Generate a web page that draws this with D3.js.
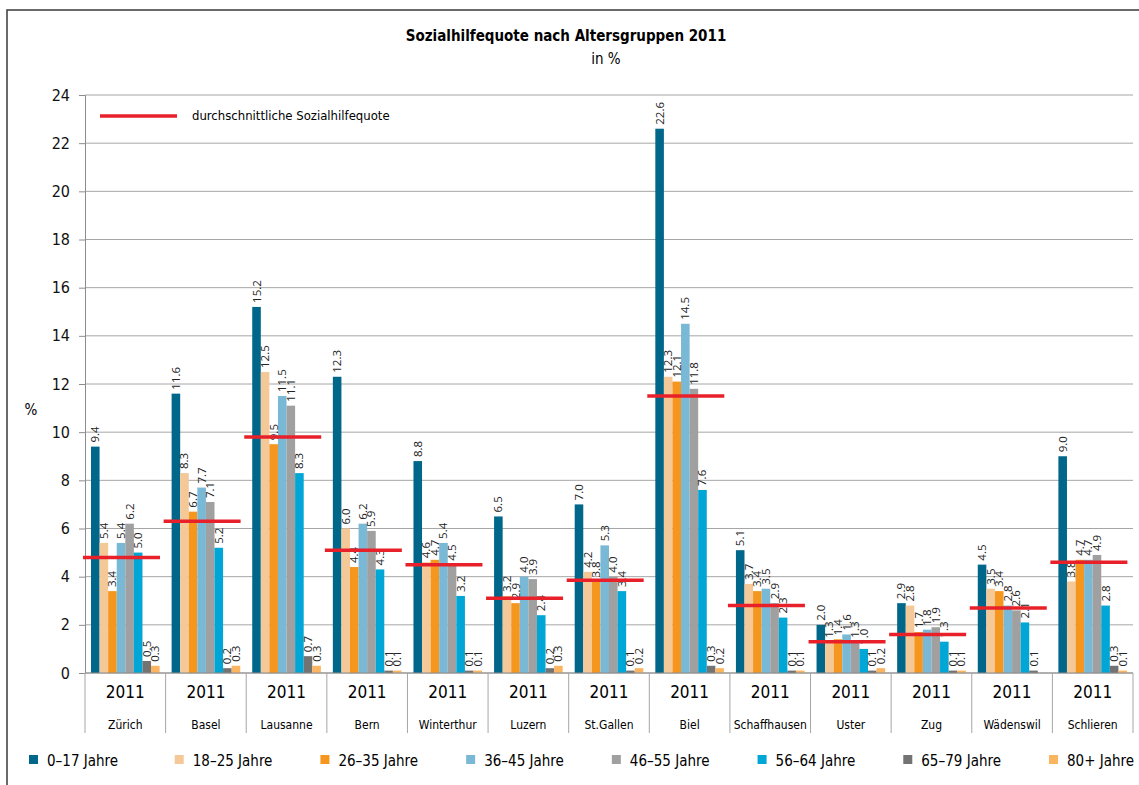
<!DOCTYPE html>
<html>
<head>
<meta charset="utf-8">
<script src="https://cdn.jsdelivr.net/npm/d3@7"></script>
<style>
  body { margin: 0; background: #fff; }
  svg { display: block; }
</style>
</head>
<body>
<script>
const cities = ["Zürich", "Basel", "Lausanne", "Bern", "Winterthur", "Luzern", "St.Gallen",
  "Biel", "Schaffhausen", "Uster", "Zug", "Wädenswil", "Schlieren"];
const year = "2011";
const groups = ["0–17 Jahre", "18–25 Jahre", "26–35 Jahre", "36–45 Jahre",
  "46–55 Jahre", "56–64 Jahre", "65–79 Jahre", "80+ Jahre"];

// one row per city, in the order of groups
const values = [
  [9.4, 5.4, 3.4, 5.4, 6.2, 5.0, 0.5, 0.3],
  [11.6, 8.3, 6.7, 7.7, 7.1, 5.2, 0.2, 0.3],
  [15.2, 12.5, 9.5, 11.5, 11.1, 8.3, 0.7, 0.3],
  [12.3, 6.0, 4.4, 6.2, 5.9, 4.3, 0.1, 0.1],
  [8.8, 4.6, 4.7, 5.4, 4.5, 3.2, 0.1, 0.1],
  [6.5, 3.2, 2.9, 4.0, 3.9, 2.4, 0.2, 0.3],
  [7.0, 4.2, 3.8, 5.3, 4.0, 3.4, 0.1, 0.2],
  [22.6, 12.3, 12.1, 14.5, 11.8, 7.6, 0.3, 0.2],
  [5.1, 3.7, 3.4, 3.5, 2.9, 2.3, 0.1, 0.1],
  [2.0, 1.3, 1.4, 1.6, 1.3, 1.0, 0.1, 0.2],
  [2.9, 2.8, 1.7, 1.8, 1.9, 1.3, 0.1, 0.1],
  [4.5, 3.5, 3.4, 2.8, 2.6, 2.1, 0.1, 0],
  [9.0, 3.8, 4.7, 4.7, 4.9, 2.8, 0.3, 0.1]
];
const averages = [4.8, 6.3, 9.8, 5.1, 4.5, 3.1, 3.85, 11.5, 2.8, 1.3, 1.6, 2.7, 4.6];
const yTicks = [0, 2, 4, 6, 8, 10, 12, 14, 16, 18, 20, 22, 24];

const colors = ["#00678a", "#f5c898", "#f5961e", "#7ab9d6", "#a0a0a0", "#00a6d6", "#737373", "#fbb560"];

const W = 1139, H = 785;
const narrow = "'Liberation Sans Narrow', 'DejaVu Sans Condensed', sans-serif";
const plot = { left: 85, right: 1133, top: 95, bottom: 673 };

const svg = d3.select("body").append("svg")
  .attr("width", W)
  .attr("height", H);

// outer frame (left and top)
svg.append("path")
  .attr("d", `M7,${H} V10 H${W}`)
  .attr("fill", "none")
  .attr("stroke", "#3a3a3a")
  .attr("stroke-width", 1.5);

svg.append("text")
  .attr("x", 566).attr("y", 41)
  .attr("text-anchor", "middle")
  .attr("font-family", narrow)
  .attr("font-weight", "bold")
  .attr("font-size", 15)
  .text("Sozialhilfequote nach Altersgruppen 2011");

svg.append("text")
  .attr("x", 606).attr("y", 64)
  .attr("text-anchor", "middle")
  .attr("font-family", narrow)
  .attr("font-size", 15)
  .text("in %");

const x = d3.scaleBand()
  .domain(cities)
  .range([plot.left, plot.right]);

const xs = d3.scaleBand()
  .domain(groups)
  .range([0, x.bandwidth()])
  .paddingOuter(0.7);

const y = d3.scaleLinear()
  .domain([0, 24])
  .range([plot.bottom, plot.top]);

// gridlines
svg.append("g")
  .selectAll("line")
  .data(yTicks)
  .join("line")
  .attr("x1", plot.left).attr("x2", plot.right)
  .attr("y1", d => y(d)).attr("y2", d => y(d))
  .attr("stroke", "#a6a6a6")
  .attr("stroke-width", 1);

// y axis
const yAxis = svg.append("g")
  .attr("transform", `translate(${plot.left},0)`)
  .call(d3.axisLeft(y).tickValues(yTicks).tickFormat(d3.format("d")).tickSize(6).tickPadding(9));
yAxis.select(".domain").attr("stroke", "#8c8c8c");
yAxis.selectAll(".tick line").attr("stroke", "#8c8c8c");
yAxis.selectAll("text")
  .attr("font-family", narrow)
  .attr("font-size", 16)
  .attr("fill", "#111");

svg.append("text")
  .attr("x", 31).attr("y", 415)
  .attr("text-anchor", "middle")
  .attr("font-family", narrow)
  .attr("font-size", 15)
  .text("%");

// bars
const cityG = svg.append("g")
  .selectAll("g")
  .data(cities)
  .join("g")
  .attr("transform", d => `translate(${x(d)},0)`);

cityG.selectAll("rect")
  .data((d, i) => values[i].map((v, j) => ({ g: groups[j], v: v, j: j })))
  .join("rect")
  .attr("x", d => xs(d.g))
  .attr("width", xs.bandwidth())
  .attr("y", d => y(d.v))
  .attr("height", d => y(0) - y(d.v))
  .attr("fill", d => colors[d.j]);

cityG.selectAll("text.lbl")
  .data((d, i) => values[i].map((v, j) => ({ g: groups[j], v: v })).filter(d => d.v > 0))
  .join("text")
  .attr("class", "lbl")
  .attr("transform", d => `translate(${xs(d.g) + xs.bandwidth() / 2 + 4},${y(d.v) - 4}) rotate(-90)`)
  .attr("font-family", "'Open Sans', sans-serif")
  .attr("font-size", 11.5)
  .attr("fill", "#222")
  .text(d => d.v.toFixed(1));

// average lines
svg.append("g")
  .selectAll("line")
  .data(cities)
  .join("line")
  .attr("x1", d => x(d) - 2)
  .attr("x2", d => x(d) + 75)
  .attr("y1", (d, i) => y(averages[i]))
  .attr("y2", (d, i) => y(averages[i]))
  .attr("stroke", "#e8202a")
  .attr("stroke-width", 3.5);

// x axis: category boxes
svg.append("line")
  .attr("x1", plot.left).attr("x2", plot.right)
  .attr("y1", plot.bottom).attr("y2", plot.bottom)
  .attr("stroke", "#8c8c8c");

svg.append("g")
  .selectAll("line")
  .data(cities.concat(["end"]))
  .join("line")
  .attr("x1", d => d === "end" ? plot.right : x(d))
  .attr("x2", d => d === "end" ? plot.right : x(d))
  .attr("y1", plot.bottom).attr("y2", 733)
  .attr("stroke", "#a6a6a6");

svg.append("g")
  .selectAll("text")
  .data(cities)
  .join("text")
  .attr("x", d => x(d) + x.bandwidth() / 2)
  .attr("y", 698)
  .attr("text-anchor", "middle")
  .attr("font-family", narrow)
  .attr("font-size", 17)
  .text(year);

svg.append("g")
  .selectAll("text")
  .data(cities)
  .join("text")
  .attr("x", d => x(d) + x.bandwidth() / 2)
  .attr("y", 729)
  .attr("text-anchor", "middle")
  .attr("font-family", narrow)
  .attr("font-size", 12)
  .text(d => d);

// legend for average line
svg.append("line")
  .attr("x1", 100).attr("x2", 177)
  .attr("y1", 116).attr("y2", 116)
  .attr("stroke", "#e8202a")
  .attr("stroke-width", 3.5);
svg.append("text")
  .attr("x", 192).attr("y", 120)
  .attr("font-family", narrow)
  .attr("font-size", 13)
  .text("durchschnittliche Sozialhilfequote");

// series legend
const lx = d3.scalePoint()
  .domain(groups)
  .range([29, 1049]);

const leg = svg.append("g")
  .selectAll("g")
  .data(groups)
  .join("g")
  .attr("transform", d => `translate(${lx(d)},760)`);

leg.append("rect")
  .attr("x", 0).attr("y", -5)
  .attr("width", 9).attr("height", 9)
  .attr("fill", (d, i) => colors[i]);

leg.append("text")
  .attr("x", 18).attr("y", 6)
  .attr("font-family", narrow)
  .attr("font-size", 15)
  .text(d => d);
</script>
</body>
</html>
